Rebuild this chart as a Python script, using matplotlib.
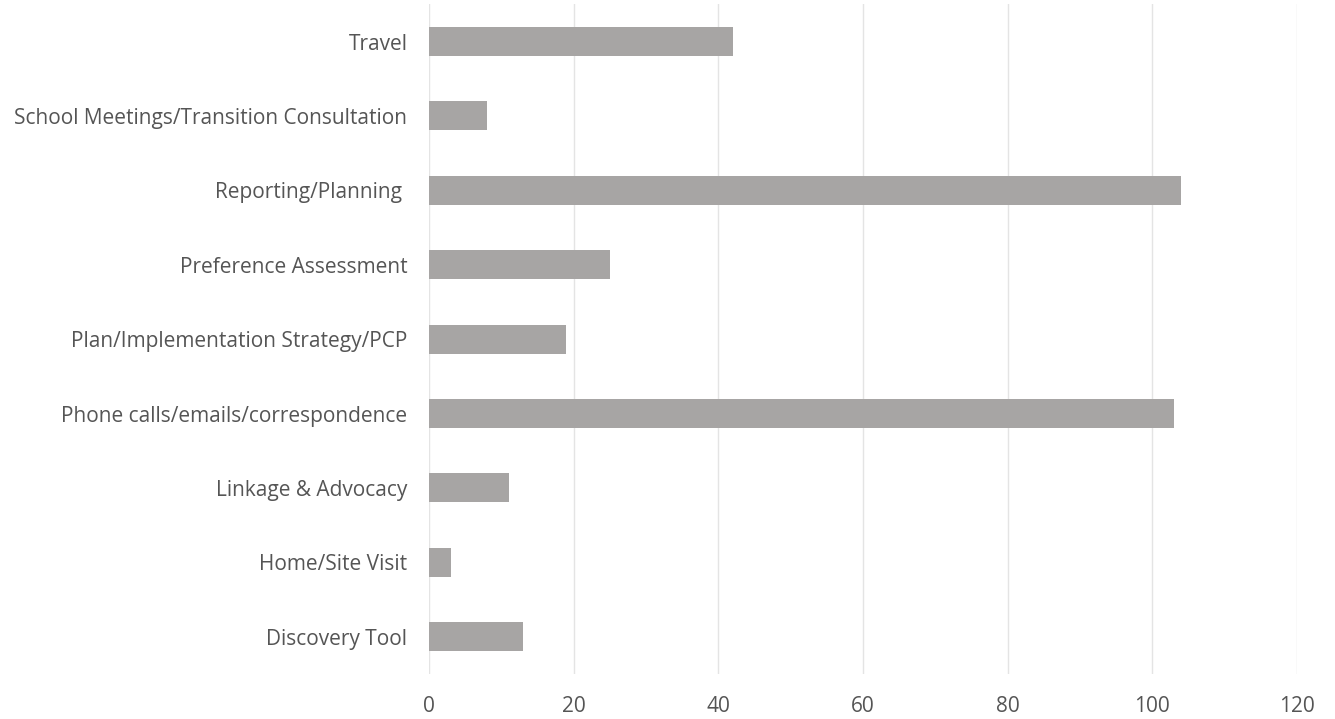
import matplotlib
matplotlib.use("Agg")
import matplotlib.pyplot as plt

categories = ["Discovery Tool", "Home/Site Visit", "Linkage & Advocacy",
              "Phone calls/emails/correspondence", "Plan/Implementation Strategy/PCP",
              "Preference Assessment", "Reporting/Planning ",
              "School Meetings/Transition Consultation", "Travel"]
values = [13, 3, 11, 103, 19, 25, 104, 8, 42]
xticks = [0, 20, 40, 60, 80, 100, 120]

plt.rcParams['font.family'] = ['Open Sans', 'DejaVu Sans']

fig = plt.figure(figsize=(13.35, 7.19), dpi=100)
ax = fig.add_axes([0.3213, 0.0626, 0.6502, 0.9314])
ax.barh(range(len(categories)), values, height=0.39, color="#a7a5a4", zorder=2)
ax.set_ylim(-0.5, len(categories) - 0.5)
ax.set_xlim(0, 120)
ax.set_xticks(xticks)
ax.set_yticks(range(len(categories)))
ax.set_yticklabels(categories)
ax.grid(axis='x', color="#e4e4e4", linewidth=1, zorder=0)
for s in ax.spines.values():
    s.set_visible(False)
ax.tick_params(axis='both', length=0, labelsize=15, colors="#555555")
ax.tick_params(axis='y', pad=15.5)
ax.tick_params(axis='x', pad=15.5)
fig.savefig("out.png", dpi=100)
